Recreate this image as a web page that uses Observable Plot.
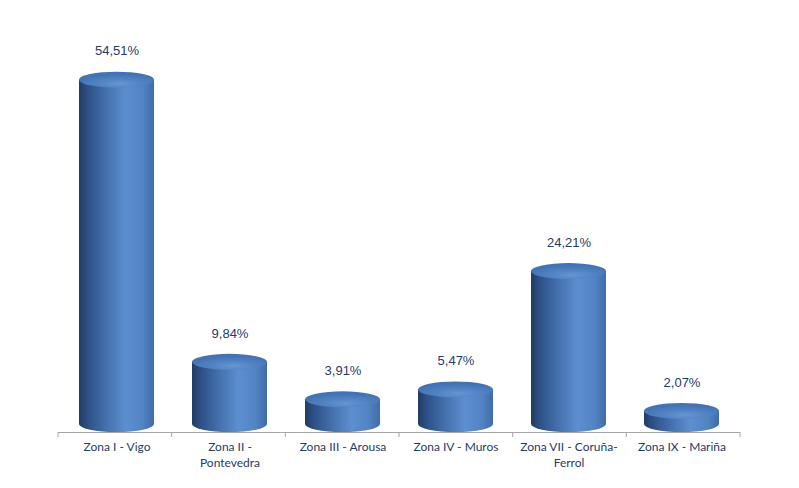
<!DOCTYPE html>
<html>
<head>
<meta charset="utf-8">
<script src="https://cdn.jsdelivr.net/npm/d3@7"></script>
<script src="https://cdn.jsdelivr.net/npm/@observablehq/plot@0.6"></script>
<style>
  html, body { margin: 0; padding: 0; background: #fff; }
  #chart svg { display: block; }
</style>
</head>
<body>
<div id="chart"></div>
<script>
const categories = ["Zona I - Vigo", "Zona II - Pontevedra", "Zona III - Arousa", "Zona IV - Muros", "Zona VII - Coruña-Ferrol", "Zona IX - Mariña"];
const tickLabels = ["Zona I - Vigo", "Zona II -\nPontevedra", "Zona III - Arousa", "Zona IV - Muros", "Zona VII - Coruña-\nFerrol", "Zona IX - Mariña"];
const values = [54.51, 9.84, 3.91, 5.47, 24.21, 2.07];
const valueLabels = ["54,51%", "9,84%", "3,91%", "5,47%", "24,21%", "2,07%"];

const data = categories.map((c, i) => ({cat: c, value: values[i], label: valueLabels[i]}));

const W = 799, H = 488;
const mL = 58, mR = 59, mT = 45, mB = 64;
const padIn = 0.34, padOut = 0.17;
const ry = 8;
const NS = "http://www.w3.org/2000/svg";

function cylinders(index, scales, vals, dims, context) {
  const g = d3.select(context.document.createElementNS(NS, "g"));
  const defs = g.append("defs");
  const side = defs.append("linearGradient").attr("id", "cylSide").attr("x1", "0").attr("x2", "1").attr("y1", "0").attr("y2", "0");
  [[0, "#213c64"], [0.12, "#2d5187"], [0.35, "#436fac"], [0.62, "#5d8ecf"], [0.85, "#5283c3"], [1, "#416ca7"]]
    .forEach(([o, c]) => side.append("stop").attr("offset", o).attr("stop-color", c));
  const top = defs.append("radialGradient").attr("id", "cylTop").attr("cx", "0.55").attr("cy", "0.75").attr("r", "0.6");
  [[0, "#6696d3"], [0.5, "#5182c2"], [1, "#4373b3"]]
    .forEach(([o, c]) => top.append("stop").attr("offset", o).attr("stop-color", c));

  const n = categories.length;
  const step = (dims.width - dims.marginLeft - dims.marginRight) / (n - padIn + 2 * padOut);
  const bw = step * (1 - padIn);
  const y0 = scales.y(0);

  // baseline tick marks at category boundaries
  for (let k = 0; k <= n; k++) {
    const xx = dims.marginLeft + k * step;
    g.append("line").attr("x1", xx).attr("x2", xx).attr("y1", y0 + ry).attr("y2", y0 + ry + 5)
      .attr("stroke", "#a6a6a6");
  }

  for (const i of index) {
    const d = data[i];
    const x0 = vals.x[i];
    const x1 = x0 + bw;
    const rx = bw / 2;
    const yt = scales.y(d.value);
    g.append("path")
      .attr("d", `M${x0},${yt} L${x0},${y0} A${rx},${ry} 0 0 0 ${x1},${y0} L${x1},${yt} Z`)
      .attr("fill", "url(#cylSide)");
    g.append("ellipse")
      .attr("cx", x0 + rx).attr("cy", yt).attr("rx", rx).attr("ry", ry)
      .attr("fill", "url(#cylTop)");
  }
  return g.node();
}

const chart = Plot.plot({
  width: W,
  height: H,
  marginLeft: mL,
  marginRight: mR,
  marginTop: mT,
  marginBottom: mB,
  style: {background: "#fff"},
  x: {domain: categories, paddingInner: padIn, paddingOuter: padOut, axis: null, label: null},
  y: {domain: [0, 60], axis: null},
  marks: [
    Plot.ruleY([0], {dy: ry, stroke: "#a6a6a6", strokeWidth: 1}),
    Plot.barY(data, {x: "cat", y: "value", render: cylinders}),
    Plot.text(data, {
      x: "cat", y: "value", text: "label", dy: -29,
      fill: "#1f3a6b", fontSize: 13, fontFamily: "Liberation Sans, Arial, sans-serif"
    }),
    Plot.axisX({
      domain: categories, tickSize: 0, tickPadding: 0, label: null,
      tickFormat: (d) => tickLabels[categories.indexOf(d)],
      dy: 15, lineHeight: 1.35,
      fontSize: 12, fill: "#1f3b66",
      fontFamily: "Lato, 'Open Sans', sans-serif",
      textAnchor: "middle"
    })
  ]
});
document.getElementById("chart").appendChild(chart);
</script>
</body>
</html>
